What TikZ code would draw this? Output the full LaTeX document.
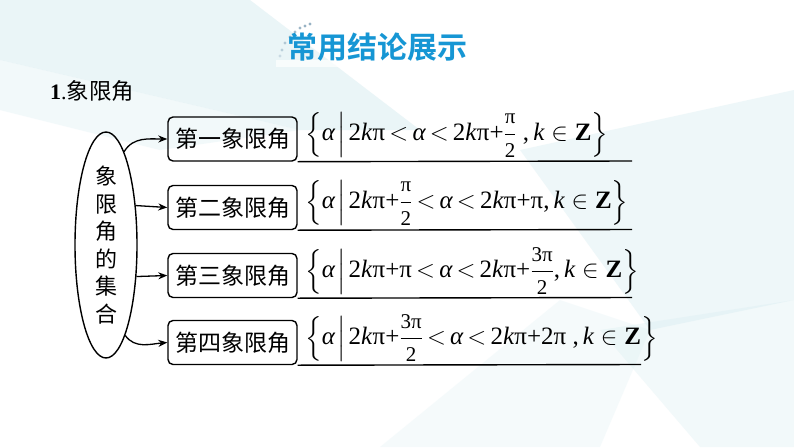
\documentclass[tikz,border=0pt]{standalone}
\usepackage{fontspec}
\usepackage{amsmath}
\setmainfont{Liberation Serif}
\newfontfamily\cjk{Noto Sans CJK SC}
\newfontfamily\cjkbold{Noto Sans CJK SC Bold}
\usetikzlibrary{shapes.geometric,arrows.meta}
\definecolor{titleblue}{RGB}{22,150,212}
\definecolor{bgteal}{RGB}{214,236,240}
\definecolor{dotgray}{RGB}{140,170,190}
\thickmuskip=3mu plus 1mu\relax
\medmuskip=1mu\relax
\newcommand\al{\text{\itshape α}}
\newcommand\kp{\text{2\textit{k}π}}
\newcommand\kz{\text{\itshape k}\mskip2mu\in\mskip2mu\text{\bfseries Z}}
\newcommand\fr[2]{\genfrac{}{}{}{0}{\text{\fontsize{21}{21}\selectfont #1}}{\text{\fontsize{21}{21}\selectfont #2}}}
\tikzset{
  box/.style={draw,line width=1.4pt,rounded corners=5pt,minimum width=129pt,minimum height=44pt,inner sep=0pt,font=\cjk\fontsize{23}{23}\selectfont},
  arr/.style={line width=1.3pt,-{Stealth[length=9pt,width=7pt]}},
  uline/.style={line width=1.4pt},
  formula/.style={anchor=west,inner sep=0pt,font=\fontsize{25}{25}\selectfont},
}
\begin{document}
\begin{tikzpicture}[x=1pt,y=-1pt]
\useasboundingbox (0,0) rectangle (794,447);
% background
\fill[white] (0,0) rectangle (794,447);
\fill[bgteal,opacity=0.5] (0,0) -- (250,0) -- (420,130) -- (300,130) -- (0,60) -- cycle;
\fill[bgteal,opacity=0.3] (0,60) -- (300,130) -- (160,150) -- (0,110) -- cycle;
\fill[bgteal,opacity=0.4] (520,150) -- (794,90) -- (794,300) -- (650,330) -- cycle;
\fill[bgteal,opacity=0.3] (600,330) -- (794,300) -- (794,447) -- (700,447) -- cycle;
\fill[bgteal,opacity=0.22] (380,447) -- (560,300) -- (650,330) -- (600,447) -- cycle;
% title
\fill[white,opacity=0.7] (276,60) rectangle (505,67);
\foreach \p/\o in {(280,56)/0.35,(282,50)/0.5,(285,43)/0.6,(290,37)/0.7,(295,32)/0.8,(300,28)/0.85,(305,26)/0.9,(310,24)/0.9}
  \fill[dotgray,opacity=\o] \p circle (1.6pt);
\node[font=\cjkbold\fontsize{30}{30}\selectfont,text=titleblue,inner sep=0pt] (title) at (377,47) {常用结论展示};
\node[anchor=base west,inner sep=0pt,font=\fontsize{22}{22}\selectfont] (head) at (50,99) {\textbf{1}.{\cjk\fontsize{22.5}{22.5}\selectfont 象限角}};
% ellipse
\node[ellipse,draw,line width=1.4pt,minimum width=62pt,minimum height=226pt,inner sep=0pt,align=center,font=\cjk\fontsize{22}{27.6}\selectfont] (e) at (106,245) {象\\限\\角\\的\\集\\合};
% boxes
\node[box] (b1) at (232.5,139) {第一象限角};
\node[box] (b2) at (232.5,207.5) {第二象限角};
\node[box] (b3) at (232.5,275.5) {第三象限角};
\node[box] (b4) at (232.5,342.5) {第四象限角};
% arrows
\draw[arr] (e.79) to[out=60,in=180] (b1.west);
\draw[arr] (e.53) -- (b2.west);
\draw[arr] (e.-46) -- (b3.west);
\draw[arr] (e.-78) to[out=-55,in=185] (b4.west);
% underlines
\coordinate (l1) at (632,161);
\coordinate (l2) at (632,229.5);
\coordinate (l3) at (632,297.5);
\coordinate (l4) at (641,364.5);
\draw[uline] (b1.south east) -- (l1);
\draw[uline] (b2.south east) -- (l2);
\draw[uline] (b3.south east) -- (l3);
\draw[uline] (b4.south east) -- (l4);
% formulas
\node[formula] (f1) at (305,135) {$\left\{\al\mskip2mu\middle|\mskip2mu\kp<\al<\kp\text{+}\fr{π}{2}\text{ ,}\,\kz\right\}$};
\node[formula] (f2) at (305,203) {$\left\{\al\mskip2mu\middle|\mskip2mu\kp\text{+}\fr{π}{2}<\al<\kp\text{+π,}\,\kz\right\}$};
\node[formula] (f3) at (305,271) {$\left\{\al\mskip2mu\middle|\mskip2mu\kp\text{+π}<\al<\kp\text{+}\fr{3π}{2}\text{,}\,\kz\right\}$};
\node[formula] (f4) at (305,338) {$\left\{\al\mskip2mu\middle|\mskip2mu\kp\text{+}\fr{3π}{2}<\al<\kp\text{+2π ,}\,\kz\right\}$};
\end{tikzpicture}
\end{document}
